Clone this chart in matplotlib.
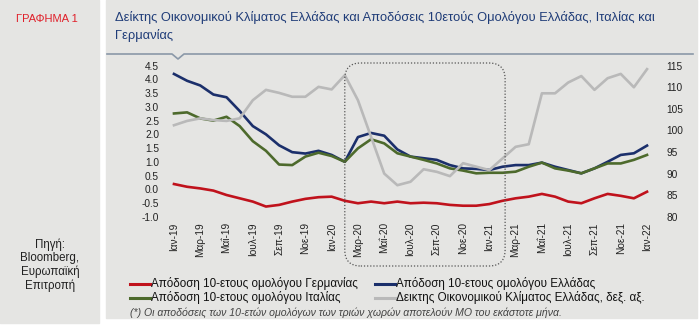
import matplotlib
matplotlib.use("Agg")
import matplotlib.pyplot as plt
from matplotlib.lines import Line2D
from matplotlib.patches import Rectangle, FancyBboxPatch
from matplotlib.transforms import IdentityTransform

plt.rcParams['font.family'] = ['Liberation Sans', 'DejaVu Sans']

# ============================================================
#  Data (monthly, Jan-19 .. Jan-22)
# ============================================================

MONTHS = ["Ιαν", "Φεβ", "Μαρ", "Απρ", "Μαΐ", "Ιουν",
          "Ιουλ", "Αυγ", "Σεπ", "Οκτ", "Νοε", "Δεκ"]
months = [f"{MONTHS[i % 12]}-{19 + i // 12}" for i in range(37)]

yield_de = [0.19, 0.09, 0.03, -0.05, -0.21, -0.33, -0.45, -0.63, -0.57, -0.45,
            -0.35, -0.29, -0.27, -0.42, -0.51, -0.45, -0.51, -0.45, -0.51, -0.49,
            -0.51, -0.57, -0.60, -0.60, -0.54, -0.42, -0.33, -0.27, -0.17, -0.27,
            -0.45, -0.51, -0.33, -0.17, -0.24, -0.33, -0.09]
yield_gr = [4.20, 3.95, 3.78, 3.45, 3.35, 2.85, 2.30, 2.00, 1.60, 1.35,
            1.30, 1.40, 1.25, 1.00, 1.90, 2.05, 1.95, 1.45, 1.19, 1.13,
            1.07, 0.88, 0.76, 0.74, 0.70, 0.82, 0.88, 0.88, 0.97, 0.82,
            0.70, 0.58, 0.76, 1.00, 1.25, 1.31, 1.59]
yield_it = [2.76, 2.80, 2.58, 2.50, 2.64, 2.30, 1.75, 1.40, 0.90, 0.88,
            1.19, 1.33, 1.21, 1.00, 1.49, 1.82, 1.67, 1.31, 1.19, 1.07,
            0.94, 0.76, 0.68, 0.58, 0.60, 0.60, 0.64, 0.82, 0.97, 0.76,
            0.68, 0.58, 0.76, 0.94, 0.94, 1.07, 1.25]
esi_gr = [101.2, 102.2, 102.8, 102.4, 102.2, 102.8, 107.0, 109.4, 108.7, 107.8,
          107.8, 110.1, 109.5, 112.8, 107.0, 98.5, 90.0, 87.3, 88.1, 91.0,
          90.4, 89.4, 92.4, 91.6, 90.8, 93.5, 96.2, 96.8, 108.6, 108.6,
          111.1, 112.6, 109.4, 112.1, 113.1, 110.0, 114.2]

labels = ["Απόδοση 10-ετους ομολόγου Γερμανίας",
          "Απόδοση 10-ετους ομολόγου Ελλάδας",
          "Απόδοση 10-ετους ομολόγου Ιταλίας",
          "Δεικτης Οικονομικού Κλίματος Ελλάδας, δεξ. αξ."]
colors = ["#c0121c", "#1b2f6b", "#4d6a2c", "#b9b9b9"]

W, H = 700, 330
PANEL = "#e5e5e3"


def px(x, y):
    return x / W, 1 - y / H


fig = plt.figure(figsize=(W / 100, H / 100), dpi=100)
fig.patch.set_facecolor("white")

# background panels
fig.add_artist(Rectangle(px(0, 323), 99 / W, 323 / H, transform=fig.transFigure,
                         color=PANEL, zorder=-5))
fig.add_artist(Rectangle(px(106, 318), 591 / W, 318 / H, transform=fig.transFigure,
                         color=PANEL, zorder=-5))

# headings
fig.text(*px(16, 19), "ΓΡΑΦΗΜΑ 1", color="#e0202a", fontsize=8, va="center")
fig.text(*px(115, 18), "Δείκτης Οικονομικού Κλίματος Ελλάδας και Αποδόσεις "
         "10ετούς Ομολόγου Ελλάδας, Ιταλίας και", color="#1f3c78", fontsize=9.3,
         va="center")
fig.text(*px(115, 35), "Γερμανίας", color="#1f3c78", fontsize=9.3, va="center")
fig.text(*px(50, 265), "Πηγή:\nBloomberg,\nΕυρωπαϊκή\nΕπιτροπή", color="#222222",
         fontsize=8.3, ha="center", va="center", linespacing=1.15)

# title rule with notch
xs = [107, 172, 178, 184, 693]
ys = [54, 54, 59, 54, 54]
fig.add_artist(Line2D([px(x, 0)[0] for x in xs], [px(0, y)[1] for y in ys],
                      transform=fig.transFigure, color="#8a98a8", lw=1.2))

# ============================================================
#  Axes
# ============================================================
x0, x1 = 167.4, 653.6
y_top, y_bot = 65.7, 216.7
ax = fig.add_axes([x0 / W, 1 - y_bot / H, (x1 - x0) / W, (y_bot - y_top) / H])
ax.set_facecolor("none")
ax2 = ax.twinx()

xi = list(range(len(months)))
ax.plot(xi, yield_de, color=colors[0], lw=1.9, solid_joinstyle="round")
ax.plot(xi, yield_gr, color=colors[1], lw=1.9, solid_joinstyle="round")
ax.plot(xi, yield_it, color=colors[2], lw=1.9, solid_joinstyle="round")
ax2.plot(xi, esi_gr, color=colors[3], lw=1.9, solid_joinstyle="round")

ax.set_xlim(-0.5, 36.5)
ax.set_ylim(-1.0, 4.5)
ax.set_yticks([-1.0 + 0.5 * i for i in range(12)])
ax.set_yticklabels([f"{-1.0 + 0.5 * i:.1f}" for i in range(12)])
ax2.set_ylim(80, 115)
ax2.set_yticks(range(80, 116, 5))
ax.set_xticks(xi[::2])
ax.set_xticklabels(months[::2], rotation=90)

for a in (ax, ax2):
    for s in a.spines.values():
        s.set_visible(False)
    a.tick_params(length=0, labelsize=7.3, colors="#222222")
ax.tick_params(axis="y", pad=6)
ax.tick_params(axis="x", pad=4)
ax2.tick_params(axis="y", pad=9)

# dotted rounded box around the pandemic period (Feb-20 .. Feb-21)
fig.canvas.draw()
bx0 = ax.transData.transform((13, 0))[0]
bx1 = ax.transData.transform((25.2, 0))[0]
by0 = (H - 266)
by1 = (H - 63)
fig.add_artist(FancyBboxPatch((bx0, by0), bx1 - bx0, by1 - by0,
                              boxstyle="round,pad=0,rounding_size=16",
                              transform=IdentityTransform(), fill=False,
                              ec="#555555", lw=0.9, ls=(0, (1, 1.5)), zorder=5))

# ============================================================
#  Legend + footnote
# ============================================================
leg_pos = [(130, 284), (375, 284), (130, 298), (375, 298)]
for (lx, ly), c, t in zip(leg_pos, colors, labels):
    fig.add_artist(Line2D([px(lx, 0)[0], px(lx + 20, 0)[0]], [px(0, ly)[1]] * 2,
                          transform=fig.transFigure, color=c, lw=2.2))
    fig.text(*px(lx + 21, ly), t, fontsize=8.4, va="center", color="#111111")

fig.text(*px(130, 313), "(*) Οι αποδόσεις των 10-ετών ομολόγων των τριών χωρών "
         "αποτελούν ΜΟ του εκάστοτε μήνα.", fontsize=7.6, style="italic",
         color="#444444", va="center")

fig.savefig("out.png", dpi=100, facecolor=fig.get_facecolor())
